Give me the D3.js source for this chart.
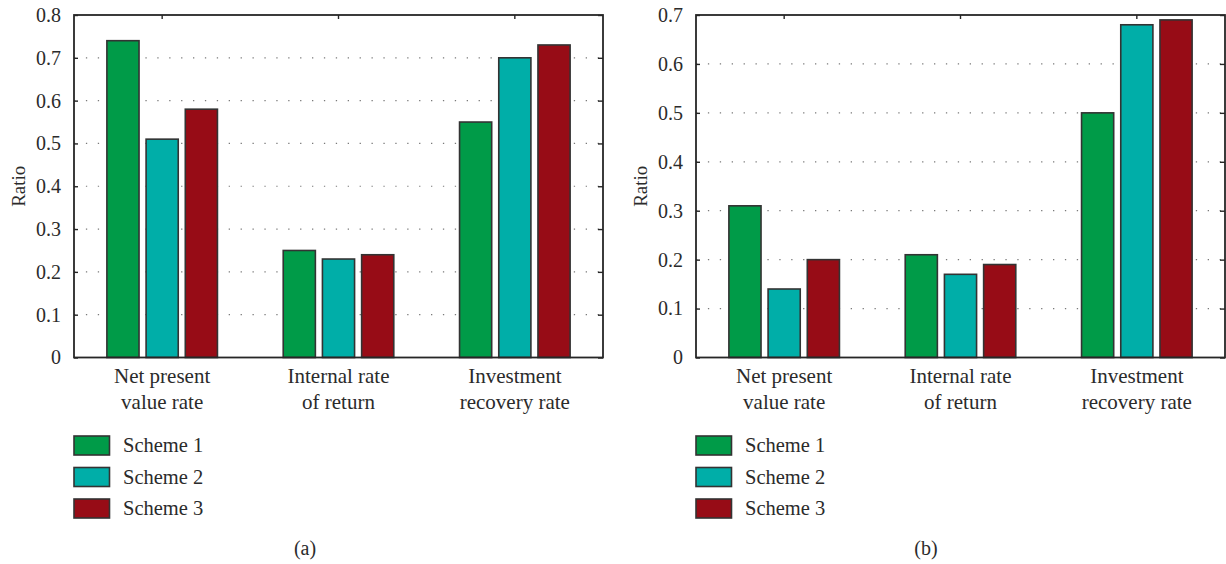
<!DOCTYPE html>
<html>
<head>
<meta charset="utf-8">
<script src="https://cdn.jsdelivr.net/npm/d3@7"></script>
<style>
  html, body { margin: 0; padding: 0; background: #fff; }
  svg { display: block; }
  text { font-family: "Liberation Serif", "DejaVu Serif", serif; fill: #2b2b2b; }
</style>
</head>
<body>
<svg id="chart" width="1226" height="564"></svg>
<script>
// Indicator categories (two-line labels under each group)
const categories = ["Net present value rate", "Internal rate of return", "Investment recovery rate"];
const categoryLines = [["Net present", "value rate"], ["Internal rate", "of return"], ["Investment", "recovery rate"]];
const schemes = ["Scheme 1", "Scheme 2", "Scheme 3"];
const schemeColors = ["#009b48", "#00aea8", "#970c16"];

// Panel (a) ratios, one array per scheme, ordered by category
const panelA_scheme1 = [0.74, 0.25, 0.55];
const panelA_scheme2 = [0.51, 0.23, 0.70];
const panelA_scheme3 = [0.58, 0.24, 0.73];
const panelA_ticks = [0, 0.1, 0.2, 0.3, 0.4, 0.5, 0.6, 0.7, 0.8];

// Panel (b) ratios
const panelB_scheme1 = [0.31, 0.21, 0.50];
const panelB_scheme2 = [0.14, 0.17, 0.68];
const panelB_scheme3 = [0.20, 0.19, 0.69];
const panelB_ticks = [0, 0.1, 0.2, 0.3, 0.4, 0.5, 0.6, 0.7];

const panels = [
  { tag: "(a)", left: 74, values: [panelA_scheme1, panelA_scheme2, panelA_scheme3], ticks: panelA_ticks, max: 0.8 },
  { tag: "(b)", left: 696, values: [panelB_scheme1, panelB_scheme2, panelB_scheme3], ticks: panelB_ticks, max: 0.7 }
];

const svg = d3.select("#chart");
const plotW = 529, plotTop = 15, plotBottom = 357.5;
const axisColor = "#262626";

panels.forEach(p => {
  const left = p.left, right = left + plotW;
  const g = svg.append("g");

  const x0 = d3.scaleBand().domain(categories).range([left, right]).padding(0);
  const groupW = x0.step() * 0.627;
  const x1 = d3.scaleBand().domain(schemes).range([-groupW / 2, groupW / 2]).paddingInner(0.18).paddingOuter(0);
  const y = d3.scaleLinear().domain([0, p.max]).range([plotBottom, plotTop]);

  // dotted horizontal grid
  g.append("g").selectAll("line")
    .data(p.ticks.filter(t => t > 0 && t < p.max))
    .join("line")
    .attr("x1", left).attr("x2", right)
    .attr("y1", d => y(d)).attr("y2", d => y(d))
    .attr("stroke", "#7a7a7a").attr("stroke-width", 1.2)
    .attr("stroke-dasharray", "1.3,10.6");

  // bars
  const rows = [];
  categories.forEach((c, ci) => schemes.forEach((s, si) => rows.push({ c, s, si, v: p.values[si][ci] })));
  g.append("g").selectAll("rect")
    .data(rows)
    .join("rect")
    .attr("x", d => x0(d.c) + x0.bandwidth() / 2 + x1(d.s))
    .attr("width", x1.bandwidth())
    .attr("y", d => y(d.v))
    .attr("height", d => y(0) - y(d.v))
    .attr("fill", d => schemeColors[d.si])
    .attr("stroke", "#333")
    .attr("stroke-width", 1.6);

  // left axis with inward ticks
  const yAxis = d3.axisLeft(y).tickValues(p.ticks).tickSizeInner(-4).tickSizeOuter(0)
    .tickPadding(13).tickFormat(d => d === 0 ? "0" : d.toFixed(1));
  const ya = g.append("g").attr("transform", `translate(${left},0)`).call(yAxis);
  ya.select(".domain").remove();
  ya.selectAll("line").attr("stroke", axisColor).attr("stroke-width", 1.4);
  ya.selectAll("text").attr("font-size", 20).attr("font-family", "Liberation Serif, serif").attr("fill", "#2b2b2b");

  // right axis ticks (inward, no labels)
  const yr = g.append("g").attr("transform", `translate(${right},0)`)
    .call(d3.axisRight(y).tickValues(p.ticks).tickSizeInner(-5).tickSizeOuter(0).tickFormat(""));
  yr.select(".domain").remove();
  yr.selectAll("line").attr("stroke", axisColor).attr("stroke-width", 1.4);

  // top axis ticks at category centres
  const xt = g.append("g").attr("transform", `translate(0,${plotTop})`)
    .call(d3.axisTop(x0).tickSizeInner(-4).tickSizeOuter(0).tickFormat(""));
  xt.select(".domain").remove();
  xt.selectAll("line").attr("stroke", axisColor).attr("stroke-width", 1.4);

  // frame
  g.append("rect").attr("x", left).attr("y", plotTop).attr("width", plotW).attr("height", plotBottom - plotTop)
    .attr("fill", "none").attr("stroke", axisColor).attr("stroke-width", 1.8);

  // category labels
  const cl = g.append("g").selectAll("text").data(categories).join("text")
    .attr("x", d => x0(d) + x0.bandwidth() / 2)
    .attr("y", 383)
    .attr("text-anchor", "middle")
    .attr("font-size", 21);
  cl.each(function(d, i) {
    d3.select(this).selectAll("tspan").data(categoryLines[i]).join("tspan")
      .attr("x", x0(d) + x0.bandwidth() / 2)
      .attr("dy", (t, j) => j === 0 ? 0 : 26)
      .text(t => t);
  });

  // y-axis title
  g.append("text")
    .attr("transform", `translate(${left - 56},${(plotTop + plotBottom) / 2}) rotate(-90)`)
    .attr("text-anchor", "middle").attr("dominant-baseline", "central")
    .attr("font-size", 19).text("Ratio");

  // legend
  const lg = g.append("g").selectAll("g").data(schemes).join("g")
    .attr("transform", (d, i) => `translate(${left},${436 + i * 31.5})`);
  lg.append("rect").attr("width", 35.5).attr("height", 19)
    .attr("fill", (d, i) => schemeColors[i]).attr("stroke", "#333").attr("stroke-width", 1.6);
  lg.append("text").attr("x", 49).attr("y", 16).attr("font-size", 20.5).text(d => d);

  // panel tag
  g.append("text").attr("x", p.tag === "(a)" ? 305 : 926).attr("y", 555)
    .attr("text-anchor", "middle").attr("font-size", 20).text(p.tag);
});
</script>
</body>
</html>
